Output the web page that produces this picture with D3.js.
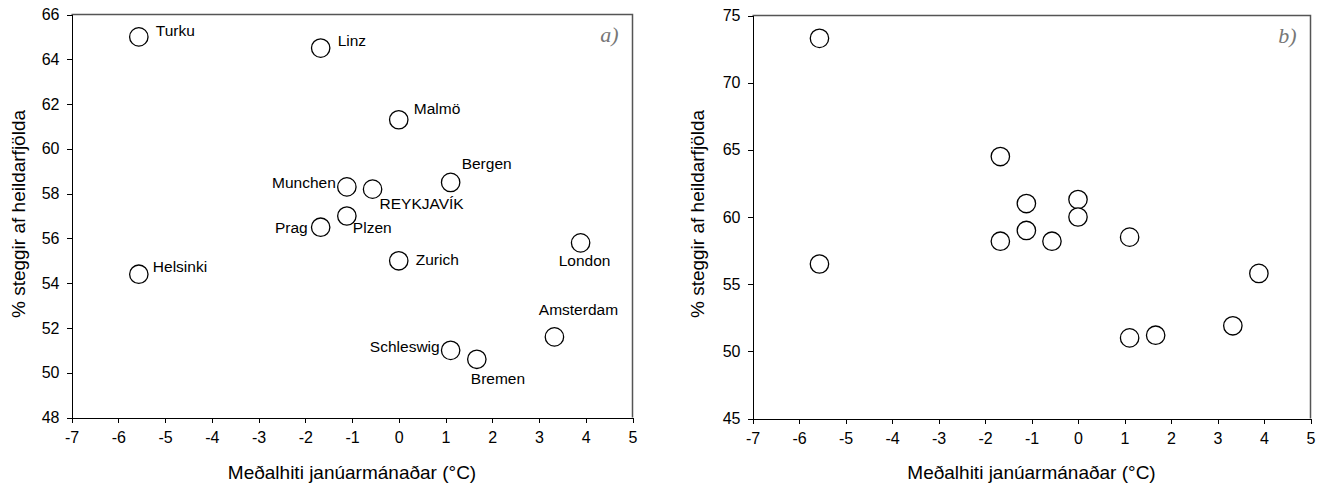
<!DOCTYPE html>
<html>
<head>
<meta charset="utf-8">
<script src="https://cdn.jsdelivr.net/npm/d3@7"></script>
<style>
  body { margin: 0; background: #fff; }
  svg { display: block; font-family: "Liberation Sans", Arial, sans-serif; }
  .axis path, .axis line { stroke: #000; shape-rendering: crispEdges; }
  .axis text { font-size: 16px; fill: #000; }
</style>
</head>
<body>
<script>
// panel a) - cities
const cities = ["Turku", "Linz", "Malmö", "Bergen", "Munchen", "REYKJAVÍK", "Plzen", "Prag",
  "Zurich", "London", "Helsinki", "Amsterdam", "Schleswig", "Bremen"];
const janTempA = [-5.56, -1.67, 0, 1.11, -1.11, -0.56, -1.11, -1.67, 0, 3.89, -5.56, 3.33, 1.11, 1.67];
const malePctA = [65.0, 64.5, 61.3, 58.5, 58.3, 58.2, 57.0, 56.5, 55.0, 55.8, 54.4, 51.6, 51.0, 50.6];

// panel b)
const janTempB = [-5.56, -5.56, -1.67, -1.67, -1.11, -1.11, -0.56, 0, 0, 1.11, 1.11, 1.67, 3.33, 3.89];
const malePctB = [73.3, 56.5, 64.5, 58.2, 61.0, 59.0, 58.2, 61.3, 60.0, 58.5, 51.0, 51.2, 51.9, 55.8];

const xTicks = d3.range(-7, 6, 1);
const yTicksA = d3.range(48, 67, 2);
const yTicksB = d3.range(45, 76, 5);

const xTitle = "Meðalhiti janúarmánaðar (°C)";
const yTitle = "% steggir af heildarfjölda";

// where each city name sits relative to its circle: [anchor, dx, dy]
const labelPlace = {
  "Turku": ["start", 17, -1], "Linz": ["start", 17, -2], "Malmö": ["start", 15, -6],
  "Bergen": ["start", 11, -13], "Munchen": ["end", -11, 1], "REYKJAVÍK": ["start", 7, 20],
  "Plzen": ["start", 6, 17], "Prag": ["end", -13, 6], "Zurich": ["start", 17, 4],
  "London": ["middle", 4, 23], "Helsinki": ["start", 14, -2], "Amsterdam": ["middle", 24, -22],
  "Schleswig": ["end", -11, 2], "Bremen": ["start", -6, 25]
};

const svg = d3.select("body").append("svg")
  .attr("width", 1321)
  .attr("height", 485);
svg.append("rect").attr("width", 1321).attr("height", 485).attr("fill", "#fff");

function drawPanel(p) {
  const width = p.right - p.left, height = p.bottom - p.top;
  let x = d3.scaleLinear().domain([-7, 5]).range([0, width]);
  let y = d3.scaleLinear().domain(p.yDomain).range([height, 0]);

  let g = svg.append("g")
    .attr("transform", "translate(" + p.left + "," + p.top + ")");

  // box top/right
  g.append("path")
    .attr("d", "M0,0H" + width + "V" + height)
    .attr("fill", "none")
    .attr("stroke", "#555")
    .attr("stroke-width", 1.5);

  g.append("g")
    .attr("class", "x axis")
    .attr("transform", "translate(0," + height + ")")
    .call(d3.axisBottom(x).tickValues(xTicks).tickSize(5).tickPadding(9)
      .tickSizeOuter(0).tickFormat(d => String(d)));

  g.append("g")
    .attr("class", "y axis")
    .call(d3.axisLeft(y).tickValues(p.yTicks).tickSize(5).tickPadding(7)
      .tickSizeOuter(0).tickFormat(d => String(d)));

  g.selectAll("circle.pt")
    .data(p.xs.map((d, i) => ({x: d, y: p.ys[i]})))
    .enter().append("circle")
    .attr("class", "pt")
    .attr("cx", d => x(d.x))
    .attr("cy", d => y(d.y))
    .attr("r", 9.2)
    .attr("fill", "#fff")
    .attr("stroke", "#000")
    .attr("stroke-width", 1.3);

  if (p.names) {
    g.selectAll("text.city")
      .data(p.names.map((n, i) => ({x: p.xs[i], y: p.ys[i], name: n})))
      .enter().append("text")
      .attr("class", "city")
      .attr("x", d => x(d.x) + labelPlace[d.name][1])
      .attr("y", d => y(d.y) + labelPlace[d.name][2])
      .attr("text-anchor", d => labelPlace[d.name][0])
      .style("font-size", "15.5px")
      .text(d => d.name);
  }

  g.append("text")
    .attr("x", width - 14)
    .attr("y", 27)
    .attr("text-anchor", "end")
    .style("font-family", "'Liberation Serif', 'DejaVu Serif', serif")
    .style("font-style", "italic")
    .style("font-size", "22px")
    .attr("fill", "#777")
    .text(p.tag);

  g.append("text")
    .attr("x", width / 2)
    .attr("y", 479 - p.top)
    .attr("text-anchor", "middle")
    .style("font-size", "19px")
    .text(xTitle);

  g.append("text")
    .attr("transform", "translate(" + (p.yTitleX - p.left) + "," + (214 - p.top) + ") rotate(-90)")
    .attr("text-anchor", "middle")
    .attr("dy", "0.35em")
    .style("font-size", "19px")
    .text(yTitle);
}

drawPanel({left: 71.5, right: 632.5, top: 14.5, bottom: 417.5, yDomain: [48, 66], yTicks: yTicksA,
  xs: janTempA, ys: malePctA, names: cities, tag: "a)", yTitleX: 18});
drawPanel({left: 752.5, right: 1310.5, top: 15.5, bottom: 418.5, yDomain: [45, 75], yTicks: yTicksB,
  xs: janTempB, ys: malePctB, names: null, tag: "b)", yTitleX: 697});
</script>
</body>
</html>
